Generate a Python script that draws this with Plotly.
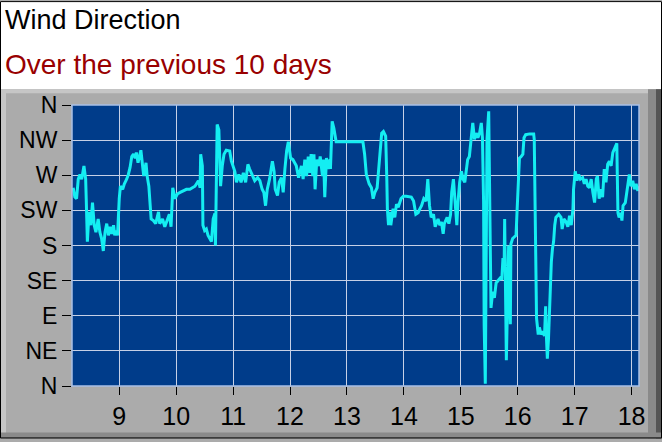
import plotly.graph_objects as go

# wind direction over the previous 10 days (day of month, degrees from north)
days = [
    8.19, 8.22, 8.25, 8.28, 8.31, 8.34, 8.38, 8.41, 8.42, 8.43, 8.44, 8.47, 8.50, 8.53, 8.56,
    8.59, 8.63, 8.66, 8.69, 8.72, 8.75, 8.78, 8.81, 8.84, 8.87, 8.90, 8.92, 8.95, 8.97, 9.00,
    9.02, 9.06, 9.09, 9.13, 9.16, 9.19, 9.22, 9.25, 9.28, 9.30, 9.33, 9.38, 9.41, 9.43, 9.47,
    9.49, 9.52, 9.54, 9.56, 9.60, 9.64, 9.69, 9.71, 9.76, 9.80, 9.84, 9.88, 9.91, 9.92, 9.94,
    9.98, 10.02, 10.07, 10.12, 10.18, 10.24, 10.33, 10.39, 10.42, 10.43, 10.46, 10.47, 10.50,
    10.53, 10.56, 10.59, 10.62, 10.65, 10.68, 10.69, 10.71, 10.72, 10.75, 10.77, 10.78, 10.81,
    10.84, 10.88, 10.94, 10.97, 11.00, 11.03, 11.06, 11.10, 11.14, 11.18, 11.22, 11.26, 11.29,
    11.33, 11.38, 11.43, 11.47, 11.51, 11.54, 11.57, 11.60, 11.64, 11.69, 11.72, 11.74, 11.78,
    11.81, 11.85, 11.88, 11.91, 11.94, 11.97, 12.01, 12.05, 12.11, 12.15, 12.20, 12.23, 12.26,
    12.29, 12.32, 12.35, 12.37, 12.40, 12.42, 12.44, 12.47, 12.51, 12.53, 12.57, 12.59, 12.61,
    12.64, 12.67, 12.70, 12.71, 12.74, 12.77, 12.81, 12.87, 13.28, 13.31, 13.34, 13.39, 13.43,
    13.46, 13.49, 13.53, 13.57, 13.61, 13.64, 13.68, 13.70, 13.71, 13.73, 13.75, 13.77, 13.81,
    13.84, 13.87, 13.90, 13.95, 13.99, 14.04, 14.13, 14.17, 14.21, 14.25, 14.28, 14.31, 14.35,
    14.39, 14.42, 14.45, 14.48, 14.52, 14.55, 14.60, 14.63, 14.66, 14.69, 14.71, 14.76, 14.79,
    14.82, 14.84, 14.87, 14.90, 14.93, 14.95, 14.98, 15.01, 15.04, 15.07, 15.09, 15.12, 15.15,
    15.18, 15.21, 15.24, 15.27, 15.30, 15.33, 15.36, 15.38, 15.40, 15.41, 15.43, 15.45, 15.46,
    15.49, 15.50, 15.52, 15.53, 15.56, 15.59, 15.62, 15.66, 15.70, 15.72, 15.74, 15.76, 15.77,
    15.78, 15.80, 15.83, 15.84, 15.87, 15.88, 15.91, 15.94, 15.97, 15.99, 16.01, 16.03, 16.06,
    16.09, 16.11, 16.14, 16.21, 16.28, 16.29, 16.30, 16.32, 16.33, 16.36, 16.38, 16.41, 16.44,
    16.47, 16.49, 16.50, 16.52, 16.54, 16.56, 16.57, 16.59, 16.61, 16.63, 16.65, 16.67, 16.72,
    16.76, 16.78, 16.81, 16.85, 16.88, 16.91, 16.94, 16.97, 16.98, 17.01, 17.04, 17.07, 17.10,
    17.14, 17.17, 17.20, 17.23, 17.26, 17.29, 17.32, 17.35, 17.38, 17.40, 17.43, 17.46, 17.49,
    17.52, 17.55, 17.58, 17.61, 17.64, 17.67, 17.70, 17.74, 17.75, 17.76, 17.78, 17.81, 17.83,
    17.85, 17.89, 17.91, 17.94, 17.96, 17.99, 18.02, 18.05, 18.08, 18.11, 18.12,
]
direction = [
    254, 242, 240, 265, 271, 265, 282, 265, 240, 206, 185, 223, 206, 235, 206,
    197, 214, 197, 189, 173, 197, 208, 193, 204, 195, 206, 193, 199, 193, 240,
    256, 252, 259, 265, 271, 280, 294, 297, 292, 299, 286, 302, 282, 269, 286,
    269, 256, 227, 214, 212, 208, 223, 208, 214, 204, 212, 220, 204, 231, 254,
    240, 246, 248, 250, 252, 252, 256, 263, 254, 297, 282, 206, 199,
    201, 193, 189, 185, 214, 221, 180, 282, 335, 328, 269, 256, 282,
    297, 302, 301, 288, 282, 275, 261, 271, 261, 273, 261, 284, 278,
    271, 263, 267, 263, 252, 248, 231, 252, 265, 288, 275, 252, 244,
    261, 267, 248, 278, 301, 313, 292, 290, 282, 267, 282, 265, 290,
    269, 294, 273, 297, 269, 297, 252, 290, 282, 294, 269, 290, 242,
    292, 278, 290, 278, 339, 330, 313, 313, 313, 297, 271, 259, 254,
    240, 248, 254, 294, 324, 326, 320, 265, 227, 206, 223, 206, 227,
    216, 233, 229, 240, 243, 243, 242, 237, 220, 222, 227, 231, 240,
    237, 265, 231, 216, 220, 204, 214, 206, 210, 195, 208, 216, 208,
    220, 248, 265, 240, 206, 235, 261, 275, 265, 261, 273, 290, 294,
    316, 337, 316, 324, 318, 324, 337, 318, 235, 79, 3, 176, 316,
    352, 303, 176, 100, 121, 113, 132, 136, 139, 136, 164, 147, 214,
    154, 33, 143, 180, 79, 182, 189, 191, 193, 227, 261, 292, 294,
    297, 318, 322, 323, 323, 316, 240, 147, 87, 66, 75, 66, 70,
    64, 102, 70, 35, 60, 113, 134, 159, 176, 185, 206, 216, 220,
    216, 201, 214, 210, 204, 218, 206, 227, 252, 275, 263, 271, 265,
    267, 259, 265, 256, 254, 265, 248, 235, 265, 269, 240, 252, 242,
    278, 261, 284, 288, 282, 299, 305, 311, 265, 222, 216, 222, 212,
    231, 235, 244, 259, 271, 256, 263, 252, 259, 250, 256,
]

compass_vals = [0, 45, 90, 135, 180, 225, 270, 315, 360]
compass_text = ["N", "NE", "E", "SE", "S", "SW", "W", "NW", "N"]
day_ticks = [9, 10, 11, 12, 13, 14, 15, 16, 17, 18]

W, H = 662, 442
L, R, T, B = 72, 639, 105, 389  # plot area in pixels


def px(x):
    return (x - L) / (R - L)


def py(y):
    return (B - y) / (B - T)


fig = go.Figure()
fig.add_trace(go.Scatter(
    x=days, y=direction, mode="lines",
    line=dict(color="#14eef2", width=3),
    hoverinfo="skip",
))

shapes = [
    # white header
    dict(type="rect", xref="paper", yref="paper", x0=px(0), x1=px(W), y0=py(89), y1=py(0),
         fillcolor="white", line=dict(width=0), layer="below"),
    # bevel light edges
    dict(type="rect", xref="paper", yref="paper", x0=px(0), x1=px(6), y0=py(H), y1=py(89),
         fillcolor="#c6c6c6", line=dict(width=0), layer="below"),
    dict(type="rect", xref="paper", yref="paper", x0=px(0), x1=px(650), y0=py(93), y1=py(89),
         fillcolor="#c6c6c6", line=dict(width=0), layer="below"),
    # bevel dark edges
    dict(type="rect", xref="paper", yref="paper", x0=px(648), x1=px(W), y0=py(H), y1=py(89),
         fillcolor="#8a8a8a", line=dict(width=0), layer="below"),
    dict(type="rect", xref="paper", yref="paper", x0=px(656), x1=px(W), y0=py(H), y1=py(89),
         fillcolor="#555555", line=dict(width=0), layer="below"),
    dict(type="rect", xref="paper", yref="paper", x0=px(0), x1=px(W), y0=py(H), y1=py(436),
         fillcolor="#8a8a8a", line=dict(width=0), layer="below"),
    # outer border
    dict(type="rect", xref="paper", yref="paper", x0=px(0.5), x1=px(W - 0.5), y0=py(H - 0.5), y1=py(0.5),
         fillcolor="rgba(0,0,0,0)", line=dict(color="black", width=1)),
    # plot frame
    dict(type="rect", xref="paper", yref="paper", x0=0, x1=1, y0=0, y1=1,
         fillcolor="rgba(0,0,0,0)", line=dict(color="#a9c0e6", width=1.5)),
]

annotations = [
    dict(text="Wind Direction", xref="paper", yref="paper", x=px(3), y=py(19),
         xanchor="left", yanchor="middle", showarrow=False,
         font=dict(family="Liberation Sans, Arial", size=27, color="black")),
    dict(text="Over the previous 10 days", xref="paper", yref="paper", x=px(3), y=py(64),
         xanchor="left", yanchor="middle", showarrow=False,
         font=dict(family="Liberation Sans, Arial", size=28, color="#990000")),
]

fig.update_layout(
    width=W, height=H,
    margin=dict(l=L, r=W - R, t=T, b=H - B),
    paper_bgcolor="#ababab",
    plot_bgcolor="#003c8a",
    showlegend=False,
    shapes=shapes,
    annotations=annotations,
    font=dict(family="Liberation Sans, Arial", color="black"),
)
fig.update_xaxes(
    range=[8.17, 18.13], tickvals=day_ticks, ticks="outside", ticklen=8, tickcolor="black",
    showgrid=True, gridcolor="#c6d0e6", gridwidth=1, zeroline=False, showline=False,
    tickfont=dict(size=25, color="black"),
)
fig.update_yaxes(
    range=[0, 360], tickvals=compass_vals, ticktext=compass_text, ticks="outside", ticklen=9,
    tickcolor="black", showgrid=True, gridcolor="#c6d0e6", gridwidth=1, zeroline=False,
    showline=False, tickfont=dict(size=23, color="black"),
)

# drop the browser's default page margin so the figure sits at the window's corner
fig.write_html("out.html", config={"displayModeBar": False},
               post_script="document.body.style.margin='0';")
